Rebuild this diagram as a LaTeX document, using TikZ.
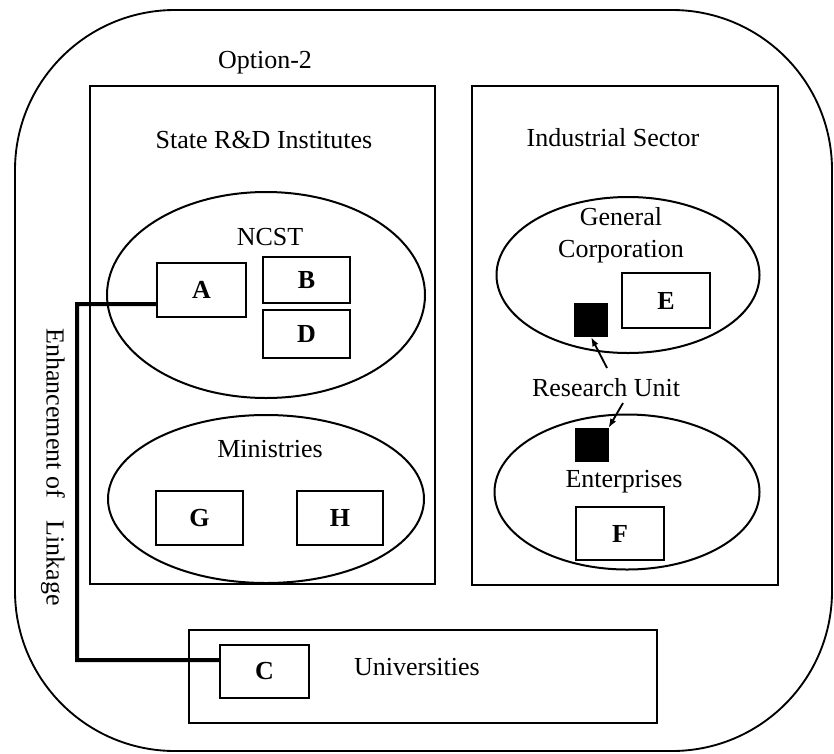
\documentclass[tikz,border=0pt]{standalone}
\usepackage{fontspec}
\setmainfont{Liberation Serif}
\usetikzlibrary{shapes.geometric,arrows.meta}
\begin{document}
\begin{tikzpicture}[x=0.75pt,y=-0.75pt,
  every node/.style={font=\fontsize{19.5}{22}\selectfont},
  bigbox/.style={draw,line width=1.6pt,inner sep=0pt},
  lbox/.style={draw,line width=1.6pt,inner sep=0pt,font=\fontsize{19.5}{22}\selectfont\bfseries},
  oval/.style={draw,ellipse,line width=1.5pt,inner sep=0pt},
  blk/.style={fill=black,draw=black,inner sep=0pt,minimum size=25pt},
  link/.style={line width=3pt},
  ptr/.style={line width=1.4pt,-{Latex[length=7pt,width=5pt]}},
  lbl/.style={inner sep=0pt}]
\useasboundingbox (0,0) rectangle (834,753);
% outer frame
\draw[line width=1.4pt,rounded corners=120pt] (15,10) rectangle (832,751);
\node[lbl] (opt) at (265,63) {Option-2};
% main boxes
\node[bigbox,minimum width=258.75pt,minimum height=373.5pt] (state) at (262.5,335) {};
\node[bigbox,minimum width=229.5pt,minimum height=374.25pt] (ind) at (625,335.5) {};
\node[bigbox,minimum width=351pt,minimum height=69.75pt] (univ) at (423,676.5) {};
\node[lbl] (statet) at (264,140) {State R\&D Institutes};
\node[lbl] (indt) at (613,138) {Industrial Sector};
\node[lbl] (univt) at (417,667) {Universities};
% ellipses
\node[oval,minimum width=238.5pt,minimum height=154.5pt] (ncst) at (266,295) {};
\node[oval,minimum width=237pt,minimum height=126pt] (min) at (266,499) {};
\node[oval,minimum width=197.25pt,minimum height=117pt] (gc) at (628,275) {};
\node[oval,minimum width=198.75pt,minimum height=116.25pt] (ent) at (627,492) {};
\node[lbl] (ncstt) at (270,237) {NCST};
\node[lbl] (mint) at (270,449) {Ministries};
\node[lbl,align=center] (gct) at (621,235) {General\\[2pt]Corporation};
\node[lbl] (entt) at (624,482) {Enterprises};
% letter boxes
\node[lbox,minimum width=66.75pt,minimum height=40.5pt] (A) at (201.5,290) {A};
\node[lbox,minimum width=65.25pt,minimum height=34.5pt] (B) at (306.5,280) {B};
\node[lbox,minimum width=65.25pt,minimum height=36pt] (D) at (306.5,334) {D};
\node[lbox,minimum width=65.25pt,minimum height=40.5pt] (G) at (199.5,518) {G};
\node[lbox,minimum width=64.5pt,minimum height=40.5pt] (H) at (340,518) {H};
\node[lbox,minimum width=66.75pt,minimum height=39.75pt] (C) at (264.5,671.5) {C};
\node[lbox,minimum width=66pt,minimum height=41.25pt] (E) at (666,300.5) {E};
\node[lbox,minimum width=66pt,minimum height=39.75pt] (F) at (620,533.5) {F};
% research units
\node[blk] (ru1) at (591,320) {};
\node[blk] (ru2) at (591.5,445) {};
\node[lbl] (rut) at (606,388) {Research Unit};
\coordinate (r1) at (607,368);
\coordinate (r2) at (623,403);
\draw[ptr] (r1) -- (ru1.south);
\draw[ptr] (r2) -- (ru2.north east);
% linkage
\node[lbl,rotate=-90] (enh) at (53,467) {Enhancement of\hspace{12pt} Linkage};
\coordinate (k1) at (77,304);
\coordinate (k2) at (77,660);
\draw[link] ([yshift=-10.5pt]A.west) -- (k1) -- (k2) -- ([yshift=8.6pt]C.west);
\end{tikzpicture}
\end{document}
